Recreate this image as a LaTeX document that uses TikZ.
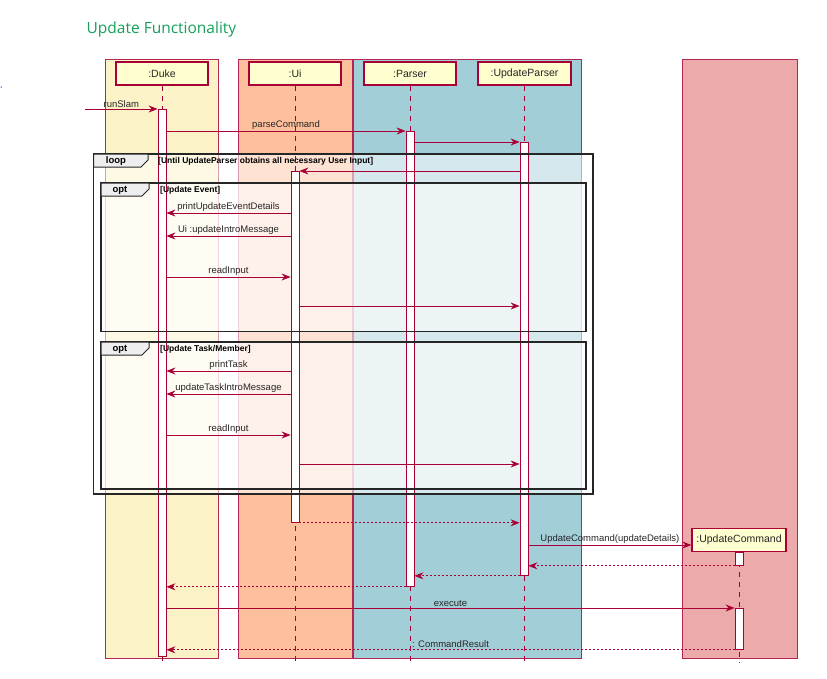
\documentclass[tikz,border=0pt]{standalone}
\usepackage{fontspec}
\setmainfont{Liberation Sans}
\newfontfamily\titlefont{Open Sans}
\usetikzlibrary{arrows.meta}
\definecolor{crim}{HTML}{A80036}
\definecolor{headfill}{HTML}{FEFECE}
\definecolor{dukebox}{HTML}{FBF3C7}
\definecolor{uibox}{HTML}{FEBF9D}
\definecolor{parserbox}{HTML}{A2CED8}
\definecolor{ucbox}{HTML}{EDAAAA}
\definecolor{titlegreen}{HTML}{14A05A}
\definecolor{tabfill}{HTML}{EEEEEE}
\begin{document}
\begin{tikzpicture}[x=1pt,y=-1pt,
  grp/.style={draw=crim!85, line width=0.8pt},
  head/.style={draw=crim, line width=1.3pt, fill=headfill, minimum width=92pt, minimum height=23pt, inner sep=0pt, font=\fontsize{10.5}{12}\selectfont, text=black!85},
  lifeline/.style={draw=crim, line width=0.8pt, dash pattern=on 5pt off 5pt},
  act/.style={draw=crim, fill=white, line width=0.8pt, minimum width=8pt, inner sep=0pt, anchor=north},
  msg/.style={draw=crim, line width=0.8pt, -{Stealth[length=9pt,width=7pt,inset=3pt]}},
  ret/.style={msg, dash pattern=on 2pt off 2pt},
  lbl/.style={font=\fontsize{9.5}{11}\selectfont, text=black!85, inner sep=1pt, midway, above=0.5pt},
  framefill/.style={fill=white, fill opacity=0.55},
  frameline/.style={draw=black!85, line width=1.7pt},
  tabshape/.style={draw=black!85, line width=1pt, fill=tabfill},
  tabtext/.style={font=\bfseries\fontsize{9.5}{10}\selectfont, inner sep=0pt},
  guard/.style={font=\bfseries\fontsize{8.5}{9}\selectfont, anchor=west, inner sep=0pt}
]
\useasboundingbox (0,0) rectangle (827,678);

% title and stray dot
\node[anchor=base west, font=\titlefont\fontsize{15.5}{18}\selectfont, text=titlegreen, inner sep=0pt] (title) at (86.5,33) {Update Functionality};
\fill[blue] (1.2,87) circle (0.7);

% participant boxes
\draw[grp, fill=dukebox] (105,59) rectangle (218,658);
\draw[grp, fill=uibox] (238,59) rectangle (352,658);
\draw[grp, fill=parserbox] (353,59) rectangle (581,658);
\draw[grp, fill=ucbox] (682,59) rectangle (797,658);

% frame fills
\fill[framefill] (93.5,154) rectangle (593,494);
\fill[framefill] (101,183) rectangle (586,331.5);
\fill[framefill] (101,342) rectangle (586,489);

% heads
\node[head] (duke) at (162,73.5) {:Duke};
\node[head] (ui) at (295,73.5) {:Ui};
\node[head] (parser) at (410,73.5) {:Parser};
\node[head, minimum width=93pt] (up) at (524.5,73.5) {:UpdateParser};
\node[head, minimum width=94pt] (uc) at (739,540) {:UpdateCommand};

% lifeline ends
\coordinate (dukeEnd) at (162,663);
\coordinate (uiEnd) at (295,663);
\coordinate (parserEnd) at (410,663);
\coordinate (upEnd) at (524,663);
\coordinate (ucEnd) at (739,663);
\draw[lifeline] (duke.south) -- (dukeEnd);
\draw[lifeline] (ui.south) -- (uiEnd);
\draw[lifeline] (parser.south) -- (parserEnd);
\draw[lifeline] (up.south -| upEnd) -- (upEnd);
\draw[lifeline] (uc.south) -- (ucEnd);

% activations
\node[act, minimum height=547pt] (dukeAct) at (162,109) {};
\node[act, minimum height=455pt] (parserAct) at (410,131) {};
\node[act, minimum height=433pt] (upAct) at (524,142) {};
\node[act, minimum height=351pt] (uiAct) at (295,171) {};
\node[act, minimum height=13pt] (ucAct1) at (739,552) {};
\node[act, minimum height=41pt] (ucAct2) at (739,608) {};

% messages
\coordinate (startIn) at (85,109);
\draw[msg] (startIn) -- node[lbl] {runSlam} (dukeAct.north west);
\draw[msg] (dukeAct.east |- 0,131) -- node[lbl] {parseCommand} (parserAct.north west);
\draw[msg] (parserAct.east |- 0,142) -- (upAct.north west);
\draw[msg] (upAct.west |- 0,171) -- (uiAct.north east);

\draw[msg] (uiAct.west |- 0,213) -- node[lbl] {printUpdateEventDetails} (dukeAct.east |- 0,213);
\draw[msg] (uiAct.west |- 0,236) -- node[lbl] {Ui :updateIntroMessage} (dukeAct.east |- 0,236);
\draw[msg] (dukeAct.east |- 0,277) -- node[lbl] {readInput} (uiAct.west |- 0,277);
\draw[msg] (uiAct.east |- 0,306) -- (upAct.west |- 0,306);

\draw[msg] (uiAct.west |- 0,371) -- node[lbl] {printTask} (dukeAct.east |- 0,371);
\draw[msg] (uiAct.west |- 0,394) -- node[lbl] {updateTaskIntroMessage} (dukeAct.east |- 0,394);
\draw[msg] (dukeAct.east |- 0,435) -- node[lbl] {readInput} (uiAct.west |- 0,435);
\draw[msg] (uiAct.east |- 0,464) -- (upAct.west |- 0,464);

\draw[ret] (uiAct.south east) -- (upAct.west |- uiAct.south east);
\draw[msg] (upAct.east |- 0,545) -- node[lbl] {UpdateCommand(updateDetails)} (uc.west |- 0,545);
\draw[ret] (ucAct1.south west) -- (upAct.east |- ucAct1.south west);
\draw[ret] (upAct.south west) -- (parserAct.east |- upAct.south west);
\draw[ret] (parserAct.south west) -- (dukeAct.east |- parserAct.south west);
\draw[msg] (dukeAct.east |- 0,608) -- node[lbl] {execute} (ucAct2.north west);
\draw[ret] (ucAct2.south west) -- node[lbl] {: CommandResult} (dukeAct.east |- ucAct2.south west);

% frames
\draw[frameline] (93.5,154) rectangle (593,494);
\draw[tabshape] (93.5,154) -- (148,154) -- (148,160) -- (141,167) -- (93.5,167) -- cycle;
\node[tabtext] (loopTag) at (116,161) {loop};
\node[guard] (loopGuard) at (158,161) {[Until UpdateParser obtains all necessary User Input]};

\draw[frameline] (101,183) rectangle (586,331.5);
\draw[tabshape] (101,183) -- (149,183) -- (149,189) -- (142,196) -- (101,196) -- cycle;
\node[tabtext] (optTag1) at (120,190) {opt};
\node[guard] (optGuard1) at (160,190) {[Update Event]};

\draw[frameline] (101,342) rectangle (586,489);
\draw[tabshape] (101,342) -- (149,342) -- (149,348) -- (142,355) -- (101,355) -- cycle;
\node[tabtext] (optTag2) at (120,349) {opt};
\node[guard] (optGuard2) at (160,349) {[Update Task/Member]};
\end{tikzpicture}
\end{document}
